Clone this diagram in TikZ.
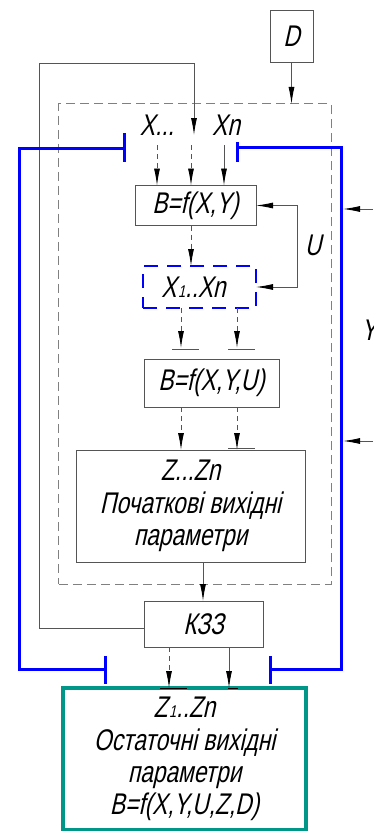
\documentclass[tikz,border=0pt]{standalone}
\usepackage{fontspec}
\newfontfamily\gost{Liberation Sans}[FakeSlant=0.22,FakeStretch=0.76]
\usetikzlibrary{arrows.meta}
\definecolor{lng}{RGB}{85,85,85}
\definecolor{frm}{RGB}{128,128,128}
\definecolor{bblue}{RGB}{0,0,255}
\definecolor{tealc}{RGB}{0,150,136}
\newcommand{\gfont}{\gost\fontsize{30}{32.5}\selectfont}
\newcommand{\sub}[1]{\kern1.5bp{\fontsize{17}{17}\selectfont #1}}
\begin{document}
\begin{tikzpicture}[x=1bp,y=-1bp,
  box/.style={draw=lng, line width=0.9bp, inner sep=0, outer sep=0, align=center, font=\gfont},
  lbl/.style={inner sep=0, font=\gfont},
  conn/.style={draw=lng, line width=0.9bp},
  tip/.tip={Latex[length=17bp,width=6bp,color=black]},
  arr/.style={conn, -tip},
  dsh/.style={dash pattern=on 5bp off 4bp},
  bl/.style={draw=bblue, line width=3bp}]
\useasboundingbox (0,0) rectangle (373,831);

% frame
\node[draw=frm, dash pattern=on 9bp off 5bp, line width=1bp, minimum width=272bp, minimum height=480bp, inner sep=0, outer sep=0] (frame) at (195,344) {};

% boxes
\node[box, minimum width=43bp, minimum height=52bp] (D) at (291.5,36) {D};
\node[box, minimum width=121bp, minimum height=40bp] (B1) at (195.5,205.5) {B=f(X,Y)};
\node[box, draw=bblue, line width=2.5bp, dash pattern=on 14bp off 9bp, minimum width=113bp, minimum height=42bp] (X1) at (199.5,287) {X\sub{1}..Xn\hspace*{12bp}};
\node[box, minimum width=135bp, minimum height=48bp] (B2) at (211.5,383) {B=f(X,Y,U)};
\node[box, minimum width=229bp, minimum height=112bp] (Z) at (190.5,506) {Z...Zn\\Початкові вихідні\\параметри};
\node[box, minimum width=119bp, minimum height=46bp] (K) at (203.5,624) {КЗЗ};
\node[box, draw=tealc, line width=4bp, minimum width=243bp, minimum height=142bp] (F) at (184.5,759) {Z\sub{1}..Zn\\Остаточні вихідні\\параметри\\B=f(X,Y,U,Z,D)};

% labels
\node[lbl] (lx1) at (157,125) {X...};
\node[lbl] (lxn) at (226,125) {Xn};
\node[lbl] (lu) at (313,245) {U};
\node[lbl] (ly) at (369,330) {Y};

% coordinates
\coordinate (lx) at (39,63);
\coordinate (xin) at (194,135);
\coordinate (i1) at (157,145);
\coordinate (i2) at (191,145);
\coordinate (i3) at (224,145);
\coordinate (ur) at (297,0);
\coordinate (t1) at (181,348);
\coordinate (t2) at (237,348);
\coordinate (zk) at (203,0);
\coordinate (k1) at (169,0);
\coordinate (k2) at (229,0);
\coordinate (r1) at (373,209);
\coordinate (r2) at (373,441);
\coordinate (r1e) at (343,209);
\coordinate (r2e) at (343,441);

% connectors
\draw[arr] (D.south) -- (D.south |- frame.north);
\draw[arr] ([yshift=-4bp]K.west) -| (lx) -| (xin);
\draw[arr,dsh] (i1) -- (i1 |- B1.north);
\draw[arr,dsh] (i2) -- (i2 |- B1.north);
\draw[arr] (i3) -- (i3 |- B1.north);
\draw[arr,dsh] (i2 |- B1.south) -- (i2 |- X1.north);
\draw[conn, tip-tip] (B1.east) -| (ur |- X1.east) -- (X1.east);
\draw[arr,dsh] (t1 |- X1.south) -- (t1);
\draw[arr,dsh] (t2 |- X1.south) -- (t2);
\draw[conn] (172,349) -- (199,349);
\draw[conn] (228,349) -- (255,349);
\draw[arr,dsh] (t1 |- B2.south) -- (t1 |- Z.north);
\draw[arr,dsh] (t2 |- B2.south) -- (t2 |- Z.north);
\draw[conn] (228,448) -- (255,448);
\draw[arr] (zk |- Z.south) -- (zk |- K.north);
\draw[arr,dsh] (k1 |- K.south) -- (k1 |- F.north);
\draw[arr] (k2 |- K.south) -- (k2 |- F.north);
\draw[conn,draw=black] (160,688) -- (187,688);
\draw[conn,draw=black] (228,688) -- (238,688);
\draw[arr] (r1) -- (r1e);
\draw[arr] (r2) -- (r2e);

% blue feedback
\draw[bl] (124,133) -- (124,162);
\draw[bl] (124,148) -- (19,148) -- (19,669) -- (105,669);
\draw[bl] (105,656) -- (105,684);
\draw[bl] (237,142) -- (237,162);
\draw[bl] (237,147) -- (341,147) -- (341,669) -- (270,669);
\draw[bl] (270,656) -- (270,684);
\end{tikzpicture}
\end{document}
